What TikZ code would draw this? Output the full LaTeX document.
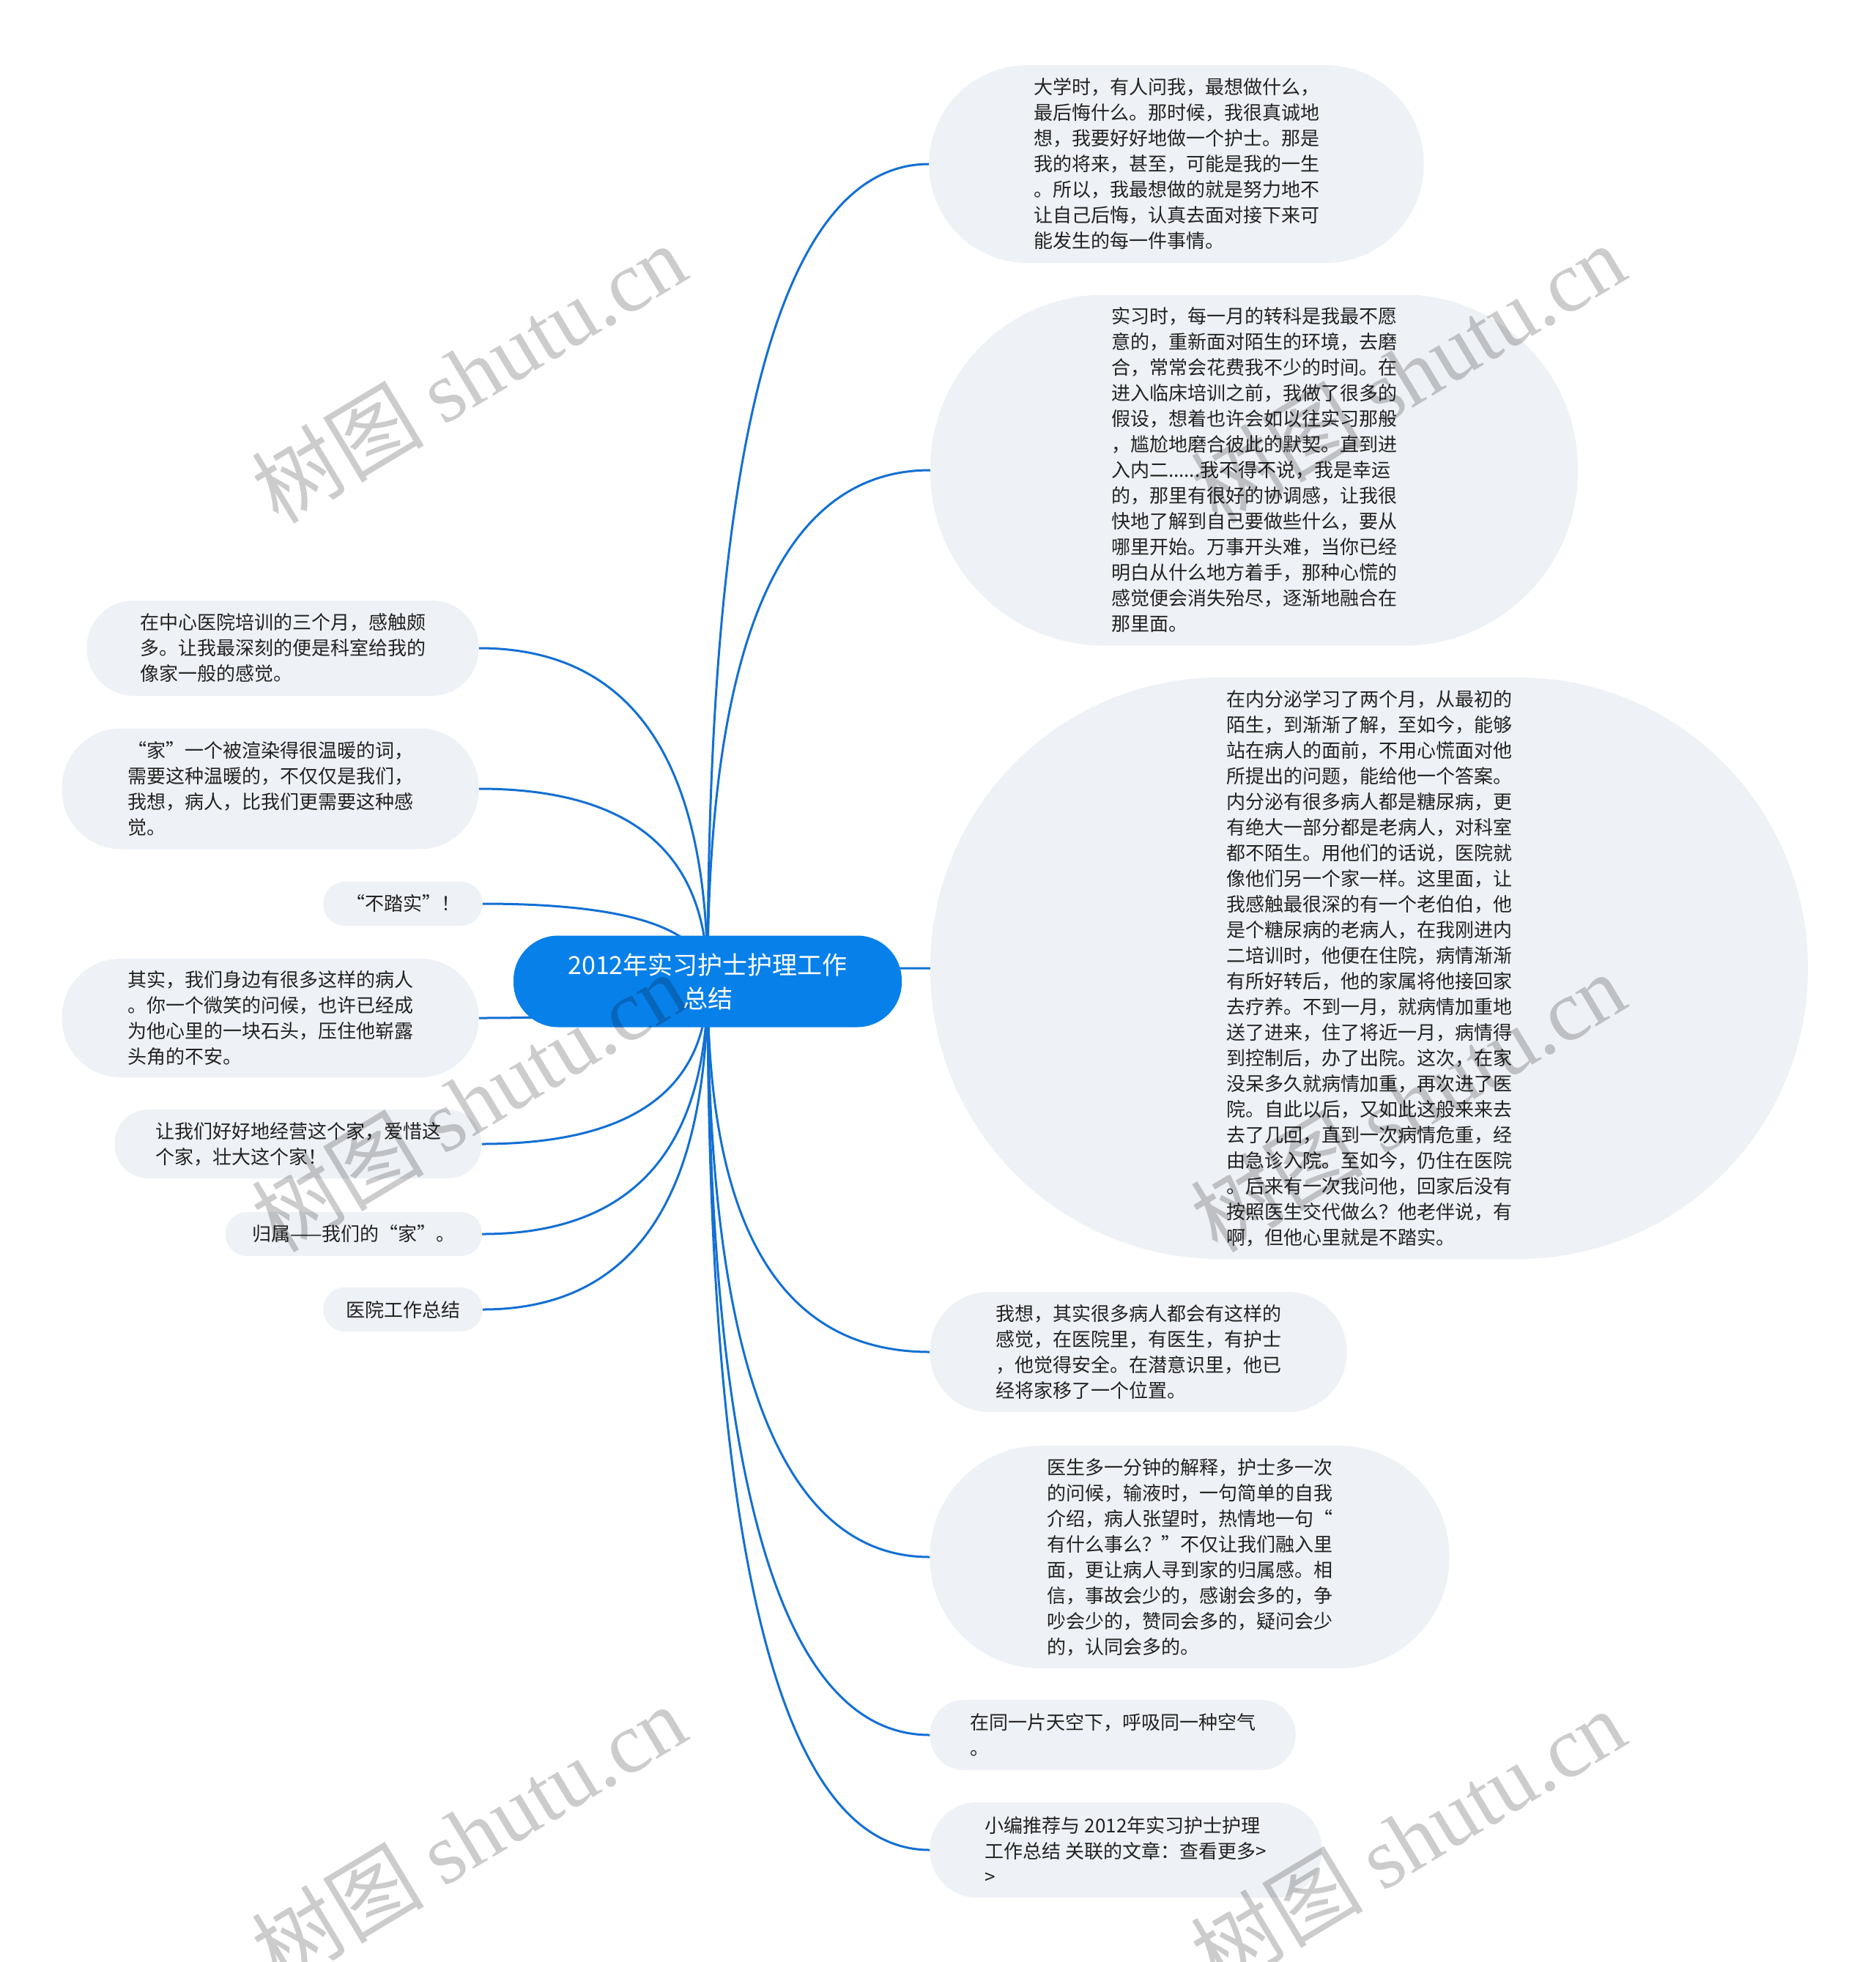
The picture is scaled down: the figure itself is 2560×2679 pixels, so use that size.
\documentclass[tikz,border=0pt]{standalone}
\usepackage{fontspec}
\setmainfont{Noto Sans CJK SC}
\newfontfamily\wmlatin{Liberation Serif}
\usetikzlibrary{calc}
\definecolor{bubfill}{RGB}{238,241,245}
\definecolor{rootfill}{RGB}{8,128,234}
\definecolor{linkc}{RGB}{18,112,212}
\definecolor{txt}{RGB}{34,34,34}
\pgfdeclarelayer{bg}\pgfdeclarelayer{fg}\pgfsetlayers{bg,main,fg}
\tikzset{
  bub/.style={fill=bubfill, draw=none, align=left, text=txt, inner sep=0pt,
    font=\fontsize{26}{35}\selectfont},
  rootbox/.style={fill=rootfill, draw=none, align=center, text=white, inner sep=0pt,
    font=\fontsize{34}{46}\selectfont, minimum width=530pt, minimum height=125pt, rounded corners=61pt},
  link/.style={draw=linkc, line width=3pt},
  wm/.style={text=black, text opacity=0.2, rotate=31, inner sep=0pt, font=\fontsize{118}{120}\selectfont}
}
\newcommand\mmlink[2]{%
  \path (#1 |- #2) coordinate (mmk);
  \draw[link] (#1) .. controls ($(#1)!0.667!(mmk)$) and ($(#2)!0.667!(mmk)$) .. (#2);}
\begin{document}
\begin{tikzpicture}[x=1pt,y=-1pt]
\useasboundingbox (0,0) rectangle (2560,2679);
\begin{pgfonlayer}{bg}
\fill[white] (0,0) rectangle (2560,2679);
\end{pgfonlayer}

\node[rootbox] (root) at (966,1340) {2012年实习护士护理工作\\总结};

\node[bub, minimum width=675pt, minimum height=270pt, rounded corners=134pt] (r1) at (1606,224) {大学时，有人问我，最想做什么，\\最后悔什么。那时候，我很真诚地\\想，我要好好地做一个护士。那是\\我的将来，甚至，可能是我的一生\\。所以，我最想做的就是努力地不\\让自己后悔，认真去面对接下来可\\能发生的每一件事情。};

\node[bub, minimum width=884pt, minimum height=479pt, rounded corners=238pt] (r2) at (1712,642) {实习时，每一月的转科是我最不愿\\意的，重新面对陌生的环境，去磨\\合，常常会花费我不少的时间。在\\进入临床培训之前，我做了很多的\\假设，想着也许会如以往实习那般\\，尴尬地磨合彼此的默契。直到进\\入内二......我不得不说，我是幸运\\的，那里有很好的协调感，让我很\\快地了解到自己要做些什么，要从\\哪里开始。万事开头难，当你已经\\明白从什么地方着手，那种心慌的\\感觉便会消失殆尽，逐渐地融合在\\那里面。};

\node[bub, minimum width=1198pt, minimum height=794pt, rounded corners=396pt] (r3) at (1869,1322) {在内分泌学习了两个月，从最初的\\陌生，到渐渐了解，至如今，能够\\站在病人的面前，不用心慌面对他\\所提出的问题，能给他一个答案。\\内分泌有很多病人都是糖尿病，更\\有绝大一部分都是老病人，对科室\\都不陌生。用他们的话说，医院就\\像他们另一个家一样。这里面，让\\我感触最很深的有一个老伯伯，他\\是个糖尿病的老病人，在我刚进内\\二培训时，他便在住院，病情渐渐\\有所好转后，他的家属将他接回家\\去疗养。不到一月，就病情加重地\\送了进来，住了将近一月，病情得\\到控制后，办了出院。这次，在家\\没呆多久就病情加重，再次进了医\\院。自此以后，又如此这般来来去\\去了几回，直到一次病情危重，经\\由急诊入院。至如今，仍住在医院\\。后来有一次我问他，回家后没有\\按照医生交代做么？他老伴说，有\\啊，但他心里就是不踏实。};

\node[bub, minimum width=569pt, minimum height=164pt, rounded corners=81pt] (r4) at (1554,1846) {我想，其实很多病人都会有这样的\\感觉，在医院里，有医生，有护士\\，他觉得安全。在潜意识里，他已\\经将家移了一个位置。};

\node[bub, minimum width=709pt, minimum height=304pt, rounded corners=151pt] (r5) at (1624,2126) {医生多一分钟的解释，护士多一次\\的问候，输液时，一句简单的自我\\介绍，病人张望时，热情地一句“\\有什么事么？”不仅让我们融入里\\面，更让病人寻到家的归属感。相\\信，事故会少的，感谢会多的，争\\吵会少的，赞同会多的，疑问会少\\的，认同会多的。};

\node[bub, minimum width=499pt, minimum height=96pt, rounded corners=47pt] (r6) at (1519,2369) {在同一片天空下，呼吸同一种空气\\。};

\node[bub, minimum width=535pt, minimum height=130pt, rounded corners=64pt] (r7) at (1537,2526) {小编推荐与 2012年实习护士护理\\工作总结 关联的文章：查看更多>\\>};

\node[bub, minimum width=535pt, minimum height=130pt, rounded corners=64pt] (l1) at (386,885) {在中心医院培训的三个月，感触颇\\多。让我最深刻的便是科室给我的\\像家一般的感觉。};

\node[bub, minimum width=569pt, minimum height=165pt, rounded corners=81pt] (l2) at (369,1077) {“家”一个被渲染得很温暖的词，\\需要这种温暖的，不仅仅是我们，\\我想，病人，比我们更需要这种感\\觉。};

\node[bub, minimum width=217pt, minimum height=60pt, rounded corners=29pt] (l3) at (550,1234) {“不踏实”！};

\node[bub, minimum width=569pt, minimum height=162pt, rounded corners=80pt] (l4) at (369,1390) {其实，我们身边有很多这样的病人\\。你一个微笑的问候，也许已经成\\为他心里的一块石头，压住他崭露\\头角的不安。};

\node[bub, minimum width=501pt, minimum height=94pt, rounded corners=46pt] (l5) at (407,1562) {让我们好好地经营这个家，爱惜这\\个家，壮大这个家！};

\node[bub, minimum width=350pt, minimum height=60pt, rounded corners=29pt] (l6) at (483,1685) {归属——我们的“家”。};

\node[bub, minimum width=217pt, minimum height=60pt, rounded corners=29pt] (l7) at (550,1788) {医院工作总结};

\begin{pgfonlayer}{bg}
\mmlink{root.center}{r1.west}
\mmlink{root.center}{r2.west}
\mmlink{root.center}{r3.west}
\mmlink{root.center}{r4.west}
\mmlink{root.center}{r5.west}
\mmlink{root.center}{r6.west}
\mmlink{root.center}{r7.west}
\mmlink{root.center}{l1.east}
\mmlink{root.center}{l2.east}
\mmlink{root.center}{l3.east}
\mmlink{root.center}{l4.east}
\mmlink{root.center}{l5.east}
\mmlink{root.center}{l6.east}
\mmlink{root.center}{l7.east}
\end{pgfonlayer}

\begin{pgfonlayer}{fg}
\node[wm] (wm1) at (640,509) {树图 {\wmlatin shutu.cn}};
\node[wm] (wm2) at (1922,509) {树图 {\wmlatin shutu.cn}};
\node[wm] (wm3) at (640,1504) {树图 {\wmlatin shutu.cn}};
\node[wm] (wm4) at (1922,1504) {树图 {\wmlatin shutu.cn}};
\node[wm] (wm5) at (640,2504) {树图 {\wmlatin shutu.cn}};
\node[wm] (wm6) at (1922,2510) {树图 {\wmlatin shutu.cn}};
\end{pgfonlayer}
\end{tikzpicture}
\end{document}
